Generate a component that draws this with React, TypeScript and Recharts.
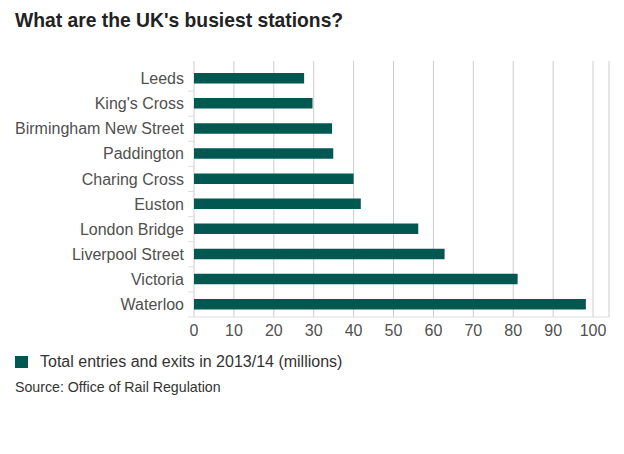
import React from 'react';
import { Bar, BarChart, CartesianGrid, XAxis, YAxis } from 'recharts';

const stations = [
  'Leeds',
  "King's Cross",
  'Birmingham New Street',
  'Paddington',
  'Charing Cross',
  'Euston',
  'London Bridge',
  'Liverpool Street',
  'Victoria',
  'Waterloo',
];
const entries = [27.6, 29.7, 34.6, 34.9, 40.0, 41.8, 56.2, 62.8, 81.1, 98.2];
const xTicks = [0, 10, 20, 30, 40, 50, 60, 70, 80, 90, 100];

const title = "What are the UK's busiest stations?";
const seriesName = 'Total entries and exits in 2013/14 (millions)';
const source = 'Source: Office of Rail Regulation';

const data = stations.map((name, i) => ({ name, value: entries[i] }));

const FONT = '"Liberation Sans", Arial, sans-serif';
const BAR = '#005850';
const BAND = 25.1;

// y tick: label plus small separator mark between categories
const StationTick = (props: any) => {
  const { x, y, payload } = props;
  return (
    <g>
      <text
        x={x - 2}
        y={y}
        dy="0.35em"
        textAnchor="end"
        fontSize={16}
        fontFamily={FONT}
        fill="#505050"
      >
        {payload.value}
      </text>
      <line x1={x + 2} x2={x + 8} y1={y + BAND / 2} y2={y + BAND / 2} stroke="#ddd" />
    </g>
  );
};

export default function App() {
  return (
    <div
      style={{
        position: 'absolute',
        left: 0,
        top: 0,
        width: 624,
        height: 454,
        background: '#fff',
        fontFamily: FONT,
      }}
    >
      <div
        style={{
          position: 'absolute',
          left: 15,
          top: 10,
          fontSize: 19.3,
          fontWeight: 'bold',
          color: '#222',
          whiteSpace: 'nowrap',
        }}
      >
        {title}
      </div>
      <BarChart
        width={624}
        height={454}
        data={data}
        layout="vertical"
        margin={{ top: 61, right: 15, bottom: 107, left: 0 }}
        barCategoryGap={0}
      >
        <CartesianGrid horizontal={false} stroke="#ccc" />
        <XAxis
          type="number"
          domain={[0, 104]}
          ticks={xTicks}
          allowDataOverflow
          height={30}
          axisLine={{ stroke: '#ddd' }}
          tickLine={false}
          tick={{ fontSize: 16, fill: '#505050', fontFamily: FONT }}
        />
        <YAxis
          type="category"
          dataKey="name"
          width={194}
          padding={{ top: 5, bottom: 0 }}
          axisLine={false}
          tickLine={false}
          interval={0}
          tick={<StationTick />}
        />
        <Bar dataKey="value" fill={BAR} barSize={10.5} isAnimationActive={false} />
      </BarChart>
      <div
        style={{
          position: 'absolute',
          left: 15,
          top: 353,
          display: 'flex',
          alignItems: 'center',
          whiteSpace: 'nowrap',
        }}
      >
        <span style={{ width: 13, height: 12, background: BAR, display: 'inline-block' }} />
        <span style={{ marginLeft: 12, fontSize: 16, color: '#333' }}>{seriesName}</span>
      </div>
      <div
        style={{
          position: 'absolute',
          left: 15,
          top: 379,
          fontSize: 14.2,
          color: '#333',
          whiteSpace: 'nowrap',
        }}
      >
        {source}
      </div>
    </div>
  );
}
